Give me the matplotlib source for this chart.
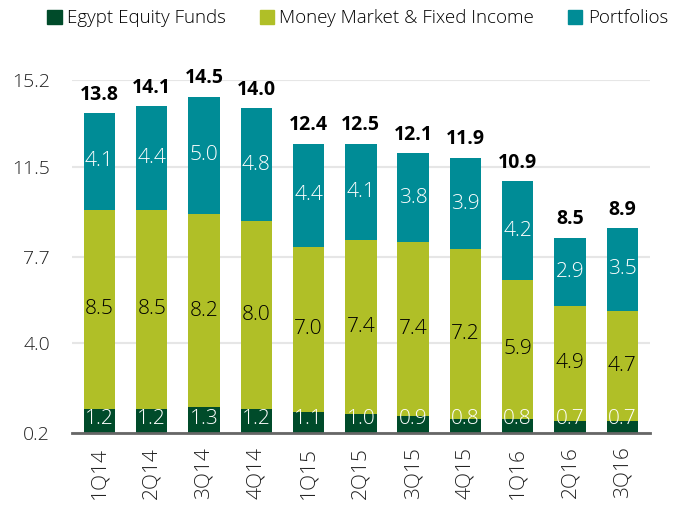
#!/usr/bin/env python3

import numpy as np
import matplotlib.pyplot as plt
from matplotlib.patches import Patch

quarters = ["1Q14", "2Q14", "3Q14", "4Q14", "1Q15", "2Q15", "3Q15", "4Q15", "1Q16", "2Q16", "3Q16"]
equity = [1.2, 1.2, 1.3, 1.2, 1.1, 1.0, 0.9, 0.8, 0.8, 0.7, 0.7]
money_market = [8.5, 8.5, 8.2, 8.0, 7.0, 7.4, 7.4, 7.2, 5.9, 4.9, 4.7]
portfolios = [4.1, 4.4, 5.0, 4.8, 4.4, 4.1, 3.8, 3.9, 4.2, 2.9, 3.5]
totals = [13.8, 14.1, 14.5, 14.0, 12.4, 12.5, 12.1, 11.9, 10.9, 8.5, 8.9]
yticks = [0.2, 4.0, 7.7, 11.5, 15.2]


def main():
    plt.rcParams["font.family"] = ["Open Sans", "DejaVu Sans"]

    c_eq = "#004b2a"
    c_mm = "#b0bf27"
    c_pf = "#008c96"

    fig = plt.figure(figsize=(6.75, 5.11), dpi=100)
    ax = fig.add_axes([0.107, 0.153, 0.856, 0.69])

    x = np.arange(len(quarters))
    eq = np.array(equity)
    mm = np.array(money_market)
    pf = np.array(portfolios)
    w = 0.6

    ax.bar(x, eq, w, color=c_eq, zorder=3)
    ax.bar(x, mm, w, bottom=eq, color=c_mm, zorder=3)
    ax.bar(x, pf, w, bottom=eq + mm, color=c_pf, zorder=3)

    lbl = dict(ha="center", va="center", fontsize=15, fontweight="light", zorder=4)
    for i in range(len(x)):
        ax.text(x[i], 0.8, f"{eq[i]:.1f}", color="white", **lbl)
        ax.text(x[i], eq[i] + mm[i] / 2, f"{mm[i]:.1f}", color="black", **lbl)
        ax.text(x[i], eq[i] + mm[i] + pf[i] / 2, f"{pf[i]:.1f}", color="white", **lbl)
        ax.annotate(f"{totals[i]:.1f}", (x[i], eq[i] + mm[i] + pf[i]),
                    xytext=(0, 6), textcoords="offset points", ha="center", va="bottom",
                    fontsize=14, fontweight="bold", annotation_clip=False)

    ax.set_xlim(-0.52, len(x) - 0.47)
    ax.set_ylim(0.2, 15.2)
    ax.set_yticks(yticks)
    ax.set_yticklabels([f"{v:.1f}" for v in yticks], fontsize=14, color="#222222",
                       fontweight="light")
    ax.set_xticks(x)
    ax.set_xticklabels(quarters, rotation=90, fontsize=15, color="#222222",
                       fontweight="light")
    ax.tick_params(axis="both", length=0, pad=10)
    ax.tick_params(axis="y", pad=16)

    ax.grid(axis="y", color="#e6e6e6", linewidth=1.5, zorder=0)
    for s in ["top", "right", "left"]:
        ax.spines[s].set_visible(False)
    ax.spines["bottom"].set_color("#666666")
    ax.spines["bottom"].set_linewidth(2)
    ax.spines["bottom"].set_zorder(5)

    handles = [Patch(color=c_eq), Patch(color=c_mm), Patch(color=c_pf)]
    fig.legend(handles, ["Egypt Equity Funds", "Money Market & Fixed Income", "Portfolios"],
               loc="upper center", bbox_to_anchor=(0.53, 1.015), ncol=3, frameon=False,
               prop={"size": 13.5, "weight": "light"}, handlelength=0.75, handleheight=0.75,
               handletextpad=0.3, columnspacing=1.8)

    fig.savefig("out.png", dpi=100)
    plt.close(fig)


if __name__ == "__main__":
    main()
